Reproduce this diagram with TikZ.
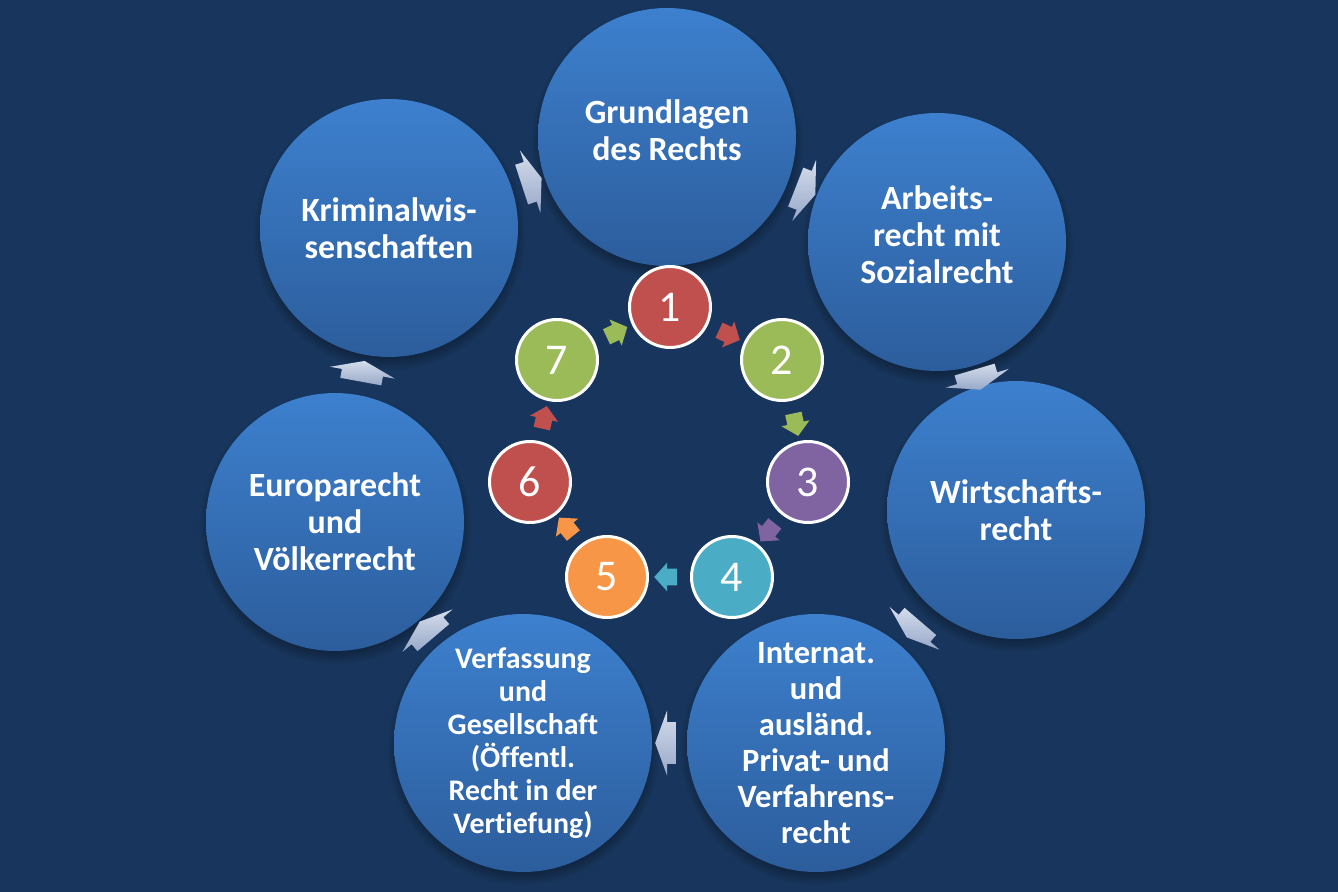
\documentclass[tikz,border=0pt]{standalone}
\usepackage{fontspec}
\setmainfont{Carlito}[Ligatures=NoCommon]
\usetikzlibrary{shapes.arrows,shadows}
\definecolor{bgnavy}{HTML}{18365D}
\definecolor{topicTop}{HTML}{3D80CE}
\definecolor{topicBot}{HTML}{2C5D9C}
\definecolor{flowLight}{HTML}{D5DDEC}
\definecolor{flowDark}{HTML}{97A8C8}
\definecolor{stepRed}{HTML}{C0504D}
\definecolor{stepGreen}{HTML}{9BBB59}
\definecolor{stepPurple}{HTML}{8064A2}
\definecolor{stepTeal}{HTML}{4BACC6}
\definecolor{stepOrange}{HTML}{F79646}
\tikzset{
  topic/.style={circle,minimum size=5.16cm,inner sep=0pt,top color=topicTop,bottom color=topicBot,
    text=white,align=center,font=\bfseries\fontsize{19.3}{21}\selectfont,
    circular drop shadow={shadow xshift=0pt,shadow yshift=-3pt,shadow scale=1.06,fill=black,opacity=.45}},
  topictext/.style={text=white,align=center,font=\bfseries\fontsize{19.3}{21}\selectfont,yshift=0.14cm},
  stepcirc/.style={circle,minimum size=1.62cm,inner sep=0pt,draw=white,line width=1.7pt,
    text=white,font=\fontsize{25}{27}\selectfont},
  flowarrow/.style={single arrow,minimum height=0.42cm,inner xsep=0pt,inner ysep=0.41cm,single arrow head extend=0.24cm,
    single arrow tip angle=140,top color=flowLight,bottom color=flowDark,sloped,allow upside down},
  stepflow/.style={single arrow,minimum height=0.46cm,inner xsep=0pt,inner ysep=0.16cm,single arrow head extend=0.12cm,
    single arrow tip angle=96,sloped,allow upside down}
}
\begin{document}
\begin{tikzpicture}[x=0.02cm,y=-0.02cm]
  \useasboundingbox[fill=bgnavy] (0,0) rectangle (1338,892);
  \node[topic,label={[topictext]center:{Grundlagen\\des Rechts}}] (grund) at (667,137) {};
  \node[topic,label={[topictext]center:{Arbeits-\\recht mit\\Sozialrecht}}] (arbeit) at (937,242) {};
  \node[topic] (wirt) at (1016,510) {Wirtschafts-\\recht};
  \node[topic,font=\bfseries\fontsize{18.5}{20.5}\selectfont] (intern) at (816,743) {Internat.\\und\\ausländ.\\Privat- und\\Verfahrens-\\recht};
  \node[topic,font=\bfseries\fontsize{17}{18.8}\selectfont] (verf) at (523,743) {Verfassung\\und\\Gesellschaft\\(Öffentl.\\Recht in der\\Vertiefung)};
  \node[topic] (europa) at (335,522) {Europarecht\\und\\Völkerrecht};
  \node[topic] (krim) at (389,228) {Kriminalwis-\\senschaften};
  \path (grund) -- (arbeit) node[midway,flowarrow]{};
  \path (arbeit) -- (wirt) node[midway,flowarrow]{};
  \path (wirt) -- (intern) node[midway,flowarrow]{};
  \path (intern) -- (verf) node[midway,flowarrow]{};
  \path (verf) -- (europa) node[midway,flowarrow]{};
  \path (europa) -- (krim) node[midway,flowarrow]{};
  \path (krim) -- (grund) node[midway,flowarrow]{};
  \node[stepcirc,fill=stepRed] (s1) at (670,307) {1};
  \node[stepcirc,fill=stepGreen] (s2) at (782,360) {2};
  \node[stepcirc,fill=stepPurple] (s3) at (808,482) {3};
  \node[stepcirc,fill=stepTeal] (s4) at (732,577) {4};
  \node[stepcirc,fill=stepOrange] (s5) at (607,577) {5};
  \node[stepcirc,fill=stepRed] (s6) at (530,482) {6};
  \node[stepcirc,fill=stepGreen] (s7) at (557,360) {7};
  \path (s1) -- (s2) node[midway,stepflow,fill=stepRed]{};
  \path (s2) -- (s3) node[midway,stepflow,fill=stepGreen]{};
  \path (s3) -- (s4) node[midway,stepflow,fill=stepPurple]{};
  \path (s4) -- (s5) node[midway,stepflow,fill=stepTeal]{};
  \path (s5) -- (s6) node[midway,stepflow,fill=stepOrange]{};
  \path (s6) -- (s7) node[midway,stepflow,fill=stepRed]{};
  \path (s7) -- (s1) node[midway,stepflow,fill=stepGreen]{};
\end{tikzpicture}
\end{document}
